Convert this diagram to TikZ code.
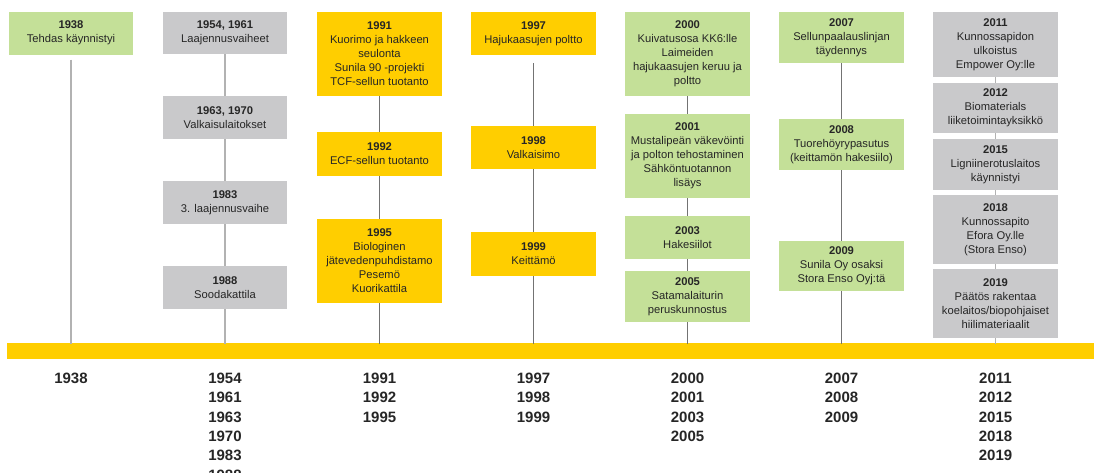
\documentclass[tikz,border=0pt]{standalone}
\usepackage{fontspec}
\setmainfont{Liberation Sans}
\definecolor{boxgreen}{RGB}{196,224,152}
\definecolor{boxgray}{RGB}{201,201,203}
\definecolor{boxyellow}{RGB}{255,206,0}
\newcommand{\ev}[2]{\textbf{#1}\\#2}

\begin{document}
\begin{tikzpicture}[x=1pt,y=-1pt,
  box/.style={inner sep=0pt,minimum width=124.5pt,align=center,
    font=\fontsize{11.2}{14}\selectfont,text=black!85},
  greenbox/.style={box,fill=boxgreen},
  graybox/.style={box,fill=boxgray},
  yellowbox/.style={box,fill=boxyellow},
  conn/.style={draw=black!55,line width=0.8pt},
  connlight/.style={draw=black!30,line width=1.4pt},
  yearlist/.style={anchor=north,inner sep=0pt,align=center,text=black!85,
    font=\fontsize{15}{19.3}\selectfont\bfseries}]

  \useasboundingbox (0,0) rectangle (1094,472);
  \clip (0,0) rectangle (1094,472);

  \fill[boxyellow] (7,343) rectangle (1094,359);

  % 1938
  \def \x {71}
  \node[greenbox,minimum height=43pt] (b1938) at (\x,33) {\ev{1938}{Tehdas käynnistyi}};
  \coordinate (t1) at (\x,344);
  \draw[connlight,shorten <=5pt] (b1938.south) -- (t1);
  \node[yearlist] (y1) at (\x,373) {1938};

  % 1954--1988
  \def \x {225}
  \node[graybox,minimum height=42pt] (b1954) at (\x,33) {\ev{1954, 1961}{Laajennusvaiheet}};
  \node[graybox,minimum height=43pt] (b1963) at (\x,117.5) {\ev{1963, 1970}{Valkaisulaitokset}};
  \node[graybox,minimum height=43pt] (b1983) at (\x,202.5) {\ev{1983}{3. laajennusvaihe}};
  \node[graybox,minimum height=43pt] (b1988) at (\x,287.5) {\ev{1988}{Soodakattila}};
  \coordinate (t2) at (\x,344);
  \draw[connlight] (b1954.south) -- (b1963.north);
  \draw[connlight] (b1963.south) -- (b1983.north);
  \draw[connlight] (b1983.south) -- (b1988.north);
  \draw[connlight] (b1988.south) -- (t2);
  \node[yearlist] (y2) at (\x,373) {1954\\1961\\1963\\1970\\1983\\1988};

  % 1991--1995
  \def \x {379.5}
  \node[yellowbox,minimum height=84pt] (b1991) at (\x,54)
    {\ev{1991}{Kuorimo ja hakkeen\\seulonta\\Sunila 90 -projekti\\TCF-sellun tuotanto}};
  \node[yellowbox,minimum height=44pt] (b1992) at (\x,154) {\ev{1992}{ECF-sellun tuotanto}};
  \node[yellowbox,minimum height=84pt] (b1995) at (\x,261)
    {\ev{1995}{Biologinen\\jätevedenpuhdistamo\\Pesemö\\Kuorikattila}};
  \coordinate (t3) at (\x,344);
  \draw[conn] (b1991.south) -- (b1992.north);
  \draw[conn] (b1992.south) -- (b1995.north);
  \draw[conn] (b1995.south) -- (t3);
  \node[yearlist] (y3) at (\x,373) {1991\\1992\\1995};

  % 1997--1999
  \def \x {533.5}
  \node[yellowbox,minimum height=43pt] (b1997) at (\x,33.5) {\ev{1997}{Hajukaasujen poltto}};
  \node[yellowbox,minimum height=43pt] (b1998) at (\x,147.5) {\ev{1998}{Valkaisimo}};
  \node[yellowbox,minimum height=44pt] (b1999) at (\x,254) {\ev{1999}{Keittämö}};
  \coordinate (t4) at (\x,344);
  \draw[conn,shorten <=8pt] (b1997.south) -- (b1998.north);
  \draw[conn] (b1998.south) -- (b1999.north);
  \draw[conn] (b1999.south) -- (t4);
  \node[yearlist] (y4) at (\x,373) {1997\\1998\\1999};

  % 2000--2005
  \def \x {687.5}
  \node[greenbox,minimum height=84pt] (b2000) at (\x,54)
    {\ev{2000}{Kuivatusosa KK6:lle\\Laimeiden\\hajukaasujen keruu ja\\poltto}};
  \node[greenbox,minimum height=84pt] (b2001) at (\x,156)
    {\ev{2001}{Mustalipeän väkevöinti\\ja polton tehostaminen\\Sähköntuotannon\\lisäys}};
  \node[greenbox,minimum height=43pt] (b2003) at (\x,237.5) {\ev{2003}{Hakesiilot}};
  \node[greenbox,minimum height=51pt] (b2005) at (\x,296.5) {\ev{2005}{Satamalaiturin\\peruskunnostus}};
  \coordinate (t5) at (\x,344);
  \draw[conn] (b2000.south) -- (b2001.north);
  \draw[conn] (b2001.south) -- (b2003.north);
  \draw[conn] (b2003.south) -- (b2005.north);
  \draw[conn] (b2005.south) -- (t5);
  \node[yearlist] (y5) at (\x,373) {2000\\2001\\2003\\2005};

  % 2007--2009
  \def \x {841.5}
  \node[greenbox,minimum height=51pt] (b2007) at (\x,37.5) {\ev{2007}{Sellunpaalauslinjan\\täydennys}};
  \node[greenbox,minimum height=51pt] (b2008) at (\x,144.5)
    {\ev{2008}{Tuorehöyrypasutus\\(keittamön hakesiilo)}};
  \node[greenbox,minimum height=50pt] (b2009) at (\x,266) {\ev{2009}{Sunila Oy osaksi\\Stora Enso Oyj:tä}};
  \coordinate (t6) at (\x,344);
  \draw[conn] (b2007.south) -- (b2008.north);
  \draw[conn] (b2008.south) -- (b2009.north);
  \draw[conn] (b2009.south) -- (t6);
  \node[yearlist] (y6) at (\x,373) {2007\\2008\\2009};

  % 2011--2019
  \def \x {995.5}
  \node[graybox,minimum height=65pt] (b2011) at (\x,44.5)
    {\ev{2011}{Kunnossapidon\\ulkoistus\\Empower Oy:lle}};
  \node[graybox,minimum height=50pt] (b2012) at (\x,108) {\ev{2012}{Biomaterials\\liiketoimintayksikkö}};
  \node[graybox,minimum height=51pt] (b2015) at (\x,164.5) {\ev{2015}{Ligniinerotuslaitos\\käynnistyi}};
  \node[graybox,minimum height=69pt] (b2018) at (\x,229.5)
    {\ev{2018}{Kunnossapito\\Efora Oy.lle\\(Stora Enso)}};
  \node[graybox,minimum height=69pt] (b2019) at (\x,303.5)
    {\ev{2019}{Päätös rakentaa\\koelaitos/biopohjaiset\\hiilimateriaalit}};
  \coordinate (t7) at (\x,344);
  \draw[connlight,line width=0.8pt] (b2011.south) -- (b2012.north);
  \draw[connlight,line width=0.8pt] (b2012.south) -- (b2015.north);
  \draw[connlight,line width=0.8pt] (b2015.south) -- (b2018.north);
  \draw[connlight,line width=0.8pt] (b2018.south) -- (b2019.north);
  \draw[connlight,line width=0.8pt] (b2019.south) -- (t7);
  \node[yearlist] (y7) at (\x,373) {2011\\2012\\2015\\2018\\2019};

\end{tikzpicture}
\end{document}
